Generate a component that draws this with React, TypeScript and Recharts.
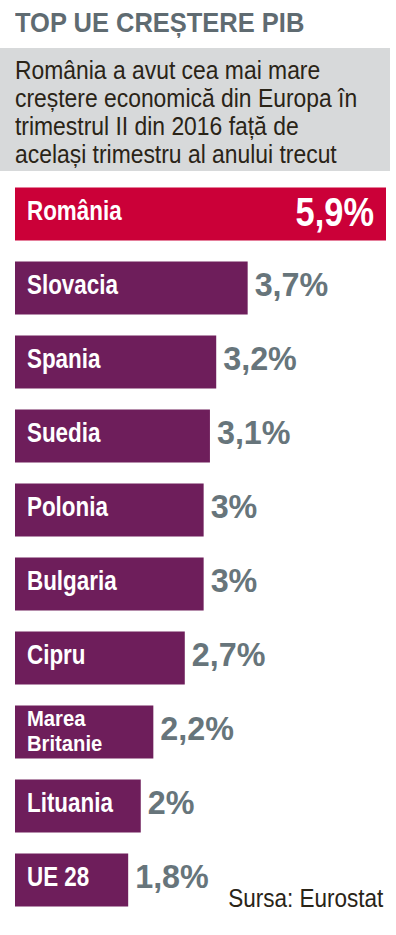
import React from "react";
import { BarChart, Bar, XAxis, YAxis, Cell, LabelList } from "recharts";

const countries = ["România", "Slovacia", "Spania", "Suedia", "Polonia", "Bulgaria", "Cipru", "Marea Britanie", "Lituania", "UE 28"];
const growth = [5.9, 3.7, 3.2, 3.1, 3, 3, 2.7, 2.2, 2, 1.8];
const valueLabels = ["5,9%", "3,7%", "3,2%", "3,1%", "3%", "3%", "2,7%", "2,2%", "2%", "1,8%"];

const title = "TOP UE CREȘTERE PIB";
const subtitleLines = [
  "România a avut cea mai mare",
  "creștere economică din Europa în",
  "trimestrul II din 2016 față de",
  "același trimestru al anului trecut",
];
const source = "Sursa: Eurostat";

const data = countries.map((name, i) => ({ name, value: growth[i], label: valueLabels[i] }));

const FONT = "'Liberation Sans', Arial, Helvetica, sans-serif";
const PURPLE = "#6e1e5b";
const RED = "#cb0038";
const GRAY = "#67757b";
const DARK = "#2a2417";

const NameLabel = (props: any) => {
  const { x, y, height, index } = props;
  const name = countries[index];
  const cy = y + height / 2;
  const words = name.split(" ");
  const tx = x + 12;
  if (name.length > 10 && words.length > 1) {
    return (
      <text
        transform={`translate(${tx},${cy}) scale(0.92,1)`}
        x={0}
        y={-6}
        fill="#fff"
        fontFamily={FONT}
        fontWeight={700}
        fontSize={22}
      >
        <tspan x={0} y={-6}>{words[0]}</tspan>
        <tspan x={0} y={19}>{words.slice(1).join(" ")}</tspan>
      </text>
    );
  }
  return (
    <text
      transform={`translate(${tx},${cy + 6}) scale(0.83,1)`}
      x={0}
      y={0}
      fill="#fff"
      fontFamily={FONT}
      fontWeight={700}
      fontSize={27}
    >
      {name}
    </text>
  );
};

const ValueLabel = (props: any) => {
  const { x, y, width, height, index } = props;
  const cy = y + height / 2;
  if (index === 0) {
    return (
      <text
        transform={`translate(${x + width - 12},${cy + 12}) scale(0.86,1)`}
        x={0}
        y={0}
        textAnchor="end"
        fill="#fff"
        fontFamily={FONT}
        fontWeight={700}
        fontSize={40}
      >
        {valueLabels[index]}
      </text>
    );
  }
  return (
    <text
      transform={`translate(${x + width + 7},${cy + 8}) scale(0.95,1)`}
      x={0}
      y={0}
      fill={GRAY}
      fontFamily={FONT}
      fontWeight={700}
      fontSize={34}
    >
      {valueLabels[index]}
    </text>
  );
};

export default function App() {
  return (
    <div style={{ position: "absolute", left: 0, top: 0, width: 396, height: 935, background: "#fff", overflow: "hidden" }}>
      <div
        style={{
          position: "absolute",
          left: 15,
          top: 9,
          fontFamily: FONT,
          fontWeight: 700,
          fontSize: 28,
          color: "#5f6b71",
          lineHeight: "28px",
          whiteSpace: "nowrap",
          transform: "scaleX(0.91)",
          transformOrigin: "left top",
        }}
      >
        {title}
      </div>
      <div style={{ position: "absolute", left: 0, top: 48, width: 390, height: 123, background: "#d7d9da" }} />
      <div
        style={{
          position: "absolute",
          left: 15,
          top: 56,
          fontFamily: FONT,
          fontSize: 26,
          color: DARK,
          lineHeight: "28px",
          whiteSpace: "nowrap",
          transform: "scaleX(0.88)",
          transformOrigin: "left top",
        }}
      >
        {subtitleLines.map((l, i) => (
          <div key={i}>{l}</div>
        ))}
      </div>
      <div style={{ position: "absolute", left: 0, top: 0 }}>
        <BarChart
          width={396}
          height={935}
          data={data}
          layout="vertical"
          margin={{ top: 176.5, right: 10, bottom: 18.5, left: 15 }}
        >
          <XAxis type="number" domain={[0, 5.9]} hide />
          <YAxis type="category" dataKey="name" hide />
          <Bar dataKey="value" barSize={53} isAnimationActive={false}>
            {data.map((d, i) => (
              <Cell key={d.name} fill={i === 0 ? RED : PURPLE} />
            ))}
            <LabelList dataKey="name" content={NameLabel} />
            <LabelList dataKey="label" content={ValueLabel} />
          </Bar>
        </BarChart>
      </div>
      <div
        style={{
          position: "absolute",
          right: 13,
          top: 884,
          fontFamily: FONT,
          fontSize: 26,
          color: DARK,
          lineHeight: "28px",
          whiteSpace: "nowrap",
          transform: "scaleX(0.865)",
          transformOrigin: "right top",
        }}
      >
        {source}
      </div>
    </div>
  );
}
